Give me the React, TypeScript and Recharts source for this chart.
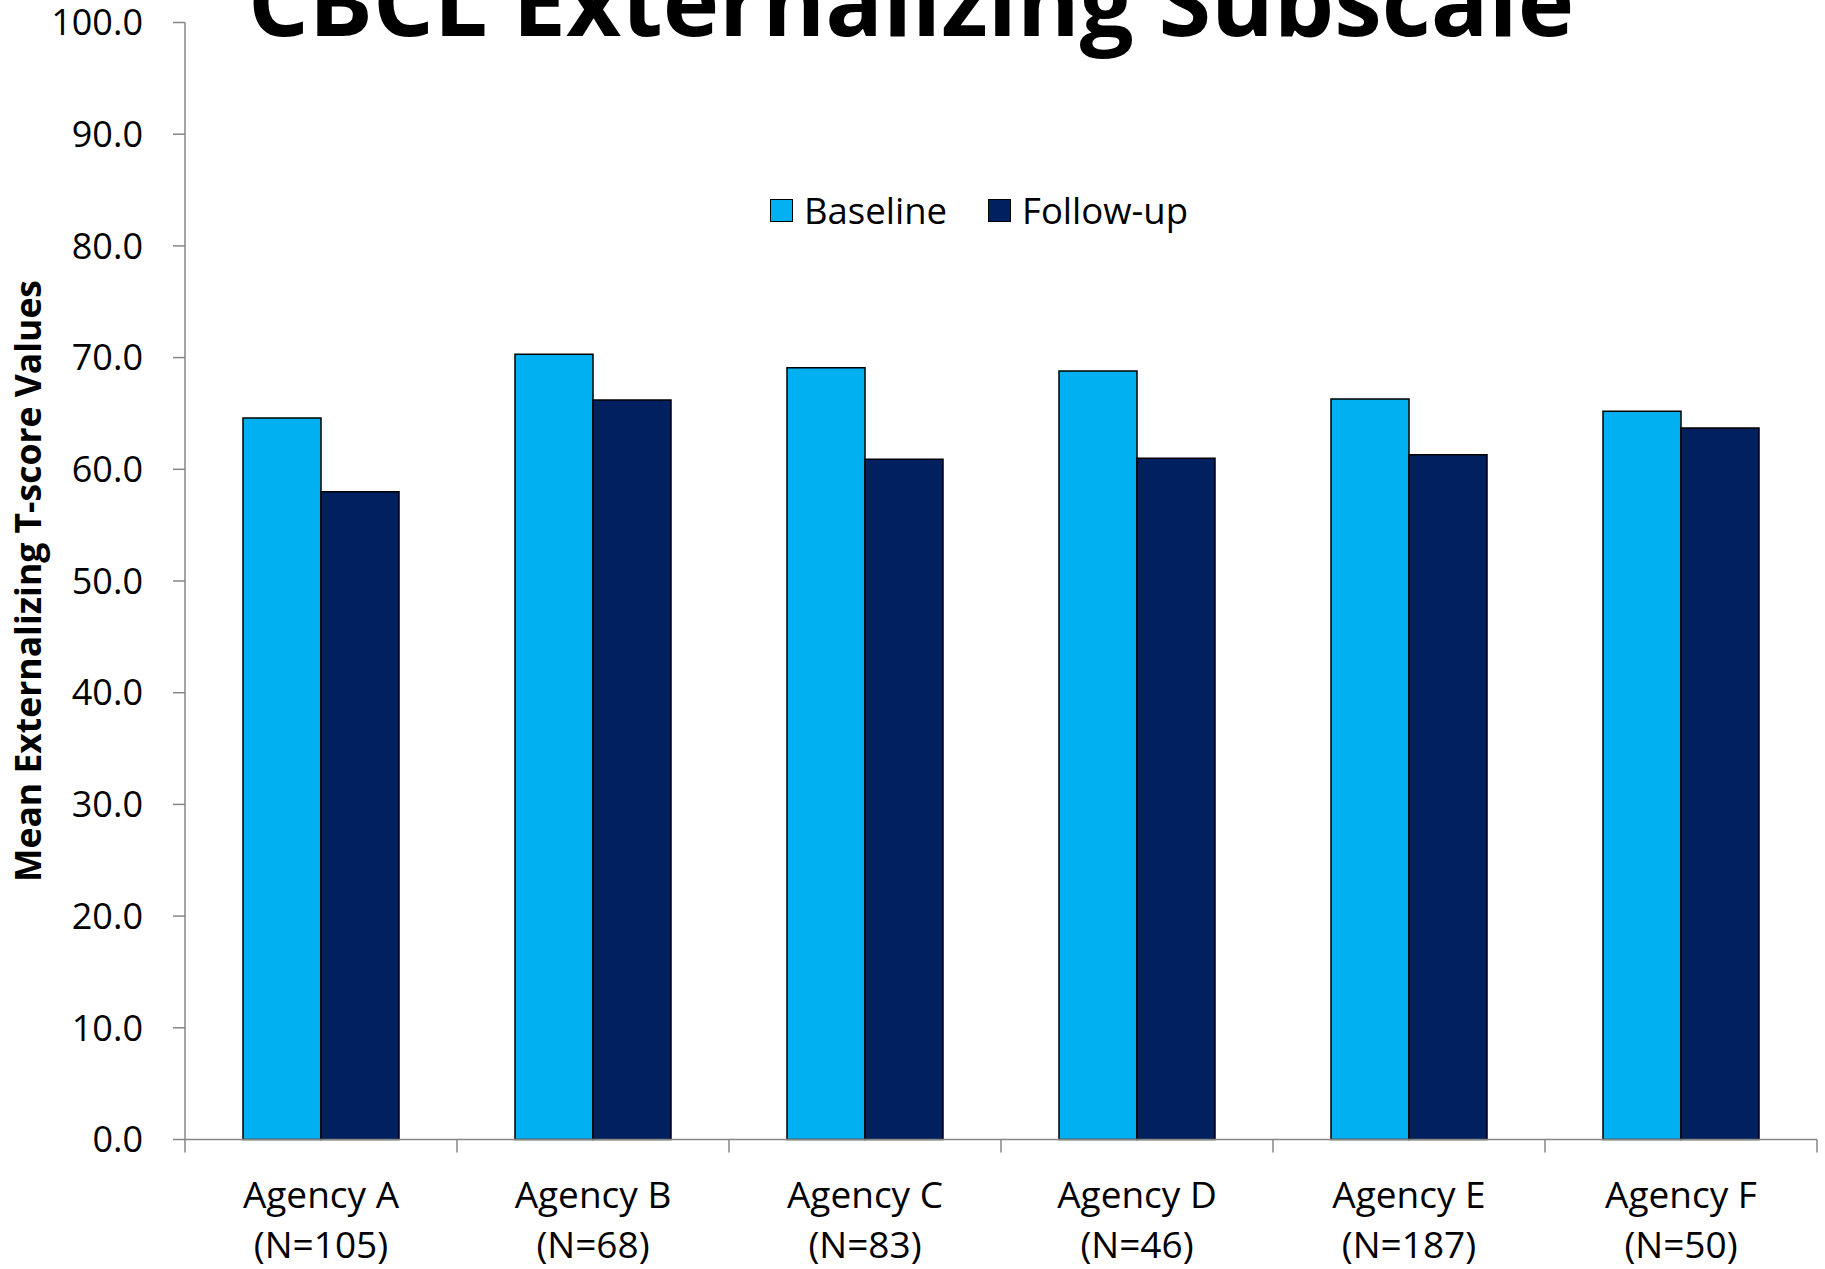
import { BarChart, Bar, XAxis, YAxis, Legend } from "recharts";

const agencies = ["Agency A", "Agency B", "Agency C", "Agency D", "Agency E", "Agency F"];
const sampleSizes = [105, 68, 83, 46, 187, 50];
const baseline = [64.6, 70.3, 69.1, 68.8, 66.3, 65.2];
const followUp = [58.0, 66.2, 60.9, 61.0, 61.3, 63.7];
const yTicks = [0, 10, 20, 30, 40, 50, 60, 70, 80, 90, 100];

const data = agencies.map((name, i) => ({
  name,
  n: sampleSizes[i],
  baseline: baseline[i],
  followUp: followUp[i],
}));

const FONT = "'Open Sans', sans-serif";
const AXIS = "#868686";

// category labels on two lines, plus the tick marks between categories
function AgencyTick(props: any) {
  const { x, y, payload, index, visibleTicksCount } = props;
  const i = agencies.indexOf(payload.value);
  const half = payload.offset || 136;
  const last = index === (visibleTicksCount ?? agencies.length) - 1;
  return (
    <g>
      <line x1={x - half} x2={x - half} y1={y} y2={y + 13} stroke={AXIS} strokeWidth={1.5} />
      {last && <line x1={x + half} x2={x + half} y1={y} y2={y + 13} stroke={AXIS} strokeWidth={1.5} />}
      <text x={x} y={y + 68} textAnchor="middle" fontFamily={FONT} fontSize={37} fill="#000">
        {payload.value}
      </text>
      <text x={x} y={y + 118} textAnchor="middle" fontFamily={FONT} fontSize={37} fill="#000">
        {`(N=${sampleSizes[i]})`}
      </text>
    </g>
  );
}

function LegendBox() {
  const items = [
    { label: "Baseline", color: "#00B0F0", gap: 41 },
    { label: "Follow-up", color: "#002060", gap: 0 },
  ];
  return (
    <div style={{ display: "flex", alignItems: "center", height: 36 }}>
      {items.map((it) => (
        <div key={it.label} style={{ display: "flex", alignItems: "center", marginRight: it.gap }}>
          <div
            style={{
              width: 21,
              height: 21,
              background: it.color,
              border: "1px solid #000",
              marginRight: 11,
            }}
          />
          <span style={{ fontFamily: FONT, fontSize: 36.5, lineHeight: "36px", color: "#000" }}>
            {it.label}
          </span>
        </div>
      ))}
    </div>
  );
}

export default function App() {
  return (
    <div style={{ position: "absolute", left: 0, top: 0, width: 1825, height: 1269, background: "#fff" }}>
      <BarChart
        width={1825}
        height={1269}
        data={data}
        margin={{ top: 22.5, right: 8, bottom: 0, left: 0 }}
        barGap={0}
      >
        <XAxis
          dataKey="name"
          height={129.5}
          axisLine={{ stroke: AXIS, strokeWidth: 1.5 }}
          tickLine={false}
          tickSize={0}
          tickMargin={0}
          tick={<AgencyTick />}
          interval={0}
        />
        <YAxis
          width={185}
          domain={[0, 100]}
          ticks={yTicks}
          interval={0}
          tickFormatter={(v: number) => v.toFixed(1)}
          axisLine={{ stroke: AXIS, strokeWidth: 1.5 }}
          tickLine={{ stroke: AXIS, strokeWidth: 1.5 }}
          tickSize={12}
          tickMargin={30}
          tick={{ fontFamily: FONT, fontSize: 36, fill: "#000" }}
        />
        <Legend
          verticalAlign="middle"
          content={() => <LegendBox />}
          wrapperStyle={{ top: 192, left: 770, width: "auto" }}
        />
        <Bar dataKey="baseline" name="Baseline" fill="#00B0F0" stroke="#000" strokeWidth={1.5} barSize={78} isAnimationActive={false} />
        <Bar dataKey="followUp" name="Follow-up" fill="#002060" stroke="#000" strokeWidth={1.5} barSize={78} isAnimationActive={false} />
      </BarChart>
      <svg
        width={1825}
        height={1269}
        style={{ position: "absolute", left: 0, top: 0, pointerEvents: "none" }}
      >
        <text x={911} y={36} textAnchor="middle" fontFamily={FONT} fontWeight={700} fontSize={95.5} fill="#000">
          CBCL Externalizing Subscale
        </text>
        <text
          x={0}
          y={0}
          transform="translate(41, 581) rotate(-90)"
          textAnchor="middle"
          fontFamily={FONT}
          fontWeight={700}
          fontSize={35.5}
          fill="#000"
        >
          Mean Externalizing T-score Values
        </text>
      </svg>
    </div>
  );
}
